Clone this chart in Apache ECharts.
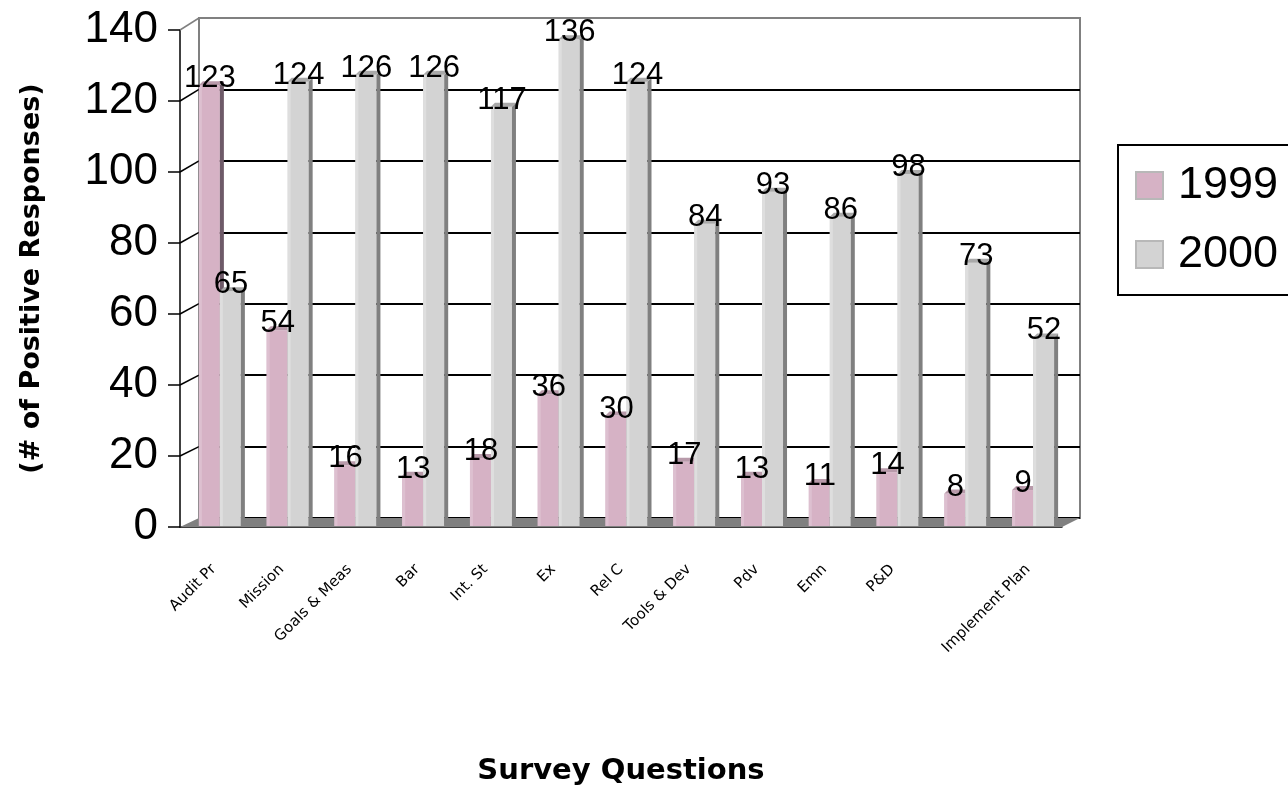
<!DOCTYPE html>
<html>
  <head>
    <title></title>
    <meta charset="UTF-8" />
    <script src="https://cdn.jsdelivr.net/npm/echarts@6/dist/echarts.min.js"></script>
    <style>
      body { margin: 0; background: #fff; }
    </style>
  </head>
  <body>
    <div id="main"></div>
    <script>
      const width = 1288;
      const height = 789;
      const main = document.getElementById('main');
      main.style.width = `${width}px`;
      main.style.height = `${height}px`;

      // data
      const categories = ['Audit Pr', 'Mission', 'Goals & Meas', 'Bar', 'Int. St', 'Ex', 'Rel C', 'Tools & Dev', 'Pdv', 'Emn', 'P&D', '', 'Implement Plan'];
      const values1999 = [123, 54, 16, 13, 18, 36, 30, 17, 13, 11, 14, 8, 9];
      const values2000 = [65, 124, 126, 126, 117, 136, 124, 84, 93, 86, 98, 73, 52];
      const yTicks = [0, 20, 40, 60, 80, 100, 120, 140];

      // front axis box, back wall box, and the plane the bars stand in (fake 3d)
      const front = { left: 180, top: 30, right: 1062, bottom: 527 };
      const back = { left: 199, top: 18, right: 1080, bottom: 518 };
      const mid = { left: 190, top: 25, right: 1071, bottom: 522 };

      const colors = [
        { front: '#d6b2c5', light: '#ddc0d0', side: '#6e5a68', top: '#b89aaa' },
        { front: '#d3d3d3', light: '#dedede', side: '#808080', top: '#a9a9a9' },
      ];

      function bar3d(s) {
        return function (params, api) {
          const i = api.value(0);
          const v = api.value(1);
          const p = api.coord([i, v]);
          const b = api.coord([i, 0]);
          const bw = 21;
          const d = 4;
          const x0 = p[0] - 25 + s * 21;
          const yT = p[1];
          const yB = b[1] + 4;
          const c = colors[s];
          return {
            type: 'group',
            children: [
              { type: 'rect', shape: { x: x0, y: yT, width: bw, height: yB - yT }, style: { fill: c.front } },
              { type: 'rect', shape: { x: x0, y: yT, width: 3, height: yB - yT }, style: { fill: c.light } },
              { type: 'polygon', shape: { points: [[x0 + bw, yT], [x0 + bw + d, yT - d], [x0 + bw + d, yB - d], [x0 + bw, yB]] }, style: { fill: c.side } },
              { type: 'polygon', shape: { points: [[x0, yT], [x0 + d, yT - d], [x0 + bw + d, yT - d], [x0 + bw, yT]] }, style: { fill: c.top } },
            ],
          };
        };
      }

      function label3d(s) {
        return function (params, api) {
          const i = api.value(0);
          const v = api.value(1);
          const p = api.coord([i, v]);
          const x0 = p[0] - 25 + s * 21;
          return {
            type: 'text',
            style: {
              text: String(v),
              x: x0 + 11,
              y: p[1] + 9,
              align: 'center',
              verticalAlign: 'bottom',
              font: '31px "Liberation Sans", Arial',
              fill: '#000',
            },
          };
        };
      }

      const d1999 = values1999.map((v, i) => [i, v]);
      const d2000 = values2000.map((v, i) => [i, v]);

      function box(r) {
        return {
          left: r.left,
          top: r.top,
          width: r.right - r.left,
          height: r.bottom - r.top,
          outerBoundsMode: 'none',
          containLabel: false,
        };
      }

      const myChart = echarts.init(main);
      const option = {
        animation: false,
        textStyle: { fontFamily: '"Liberation Sans", Arial' },
        grid: [
          box(front),
          Object.assign(box(back), { show: true, borderColor: '#808080', borderWidth: 2 }),
          box(mid),
        ],
        legend: {
          data: ['1999', '2000'],
          orient: 'vertical',
          left: 1118,
          top: 145,
          icon: 'rect',
          itemWidth: 27,
          itemHeight: 27,
          itemGap: 24,
          padding: [18, 40, 18, 17],
          borderColor: '#000',
          borderWidth: 2,
          textStyle: { fontSize: 45, color: '#000', padding: [0, 0, 0, 10] },
        },
        xAxis: [
          {
            type: 'category',
            gridIndex: 0,
            data: categories,
            axisLine: { lineStyle: { color: '#000', width: 1.5 } },
            axisTick: { length: 11, lineStyle: { color: '#000', width: 1.5 } },
            axisLabel: { rotate: 45, fontSize: 15, color: '#000', margin: 40, fontFamily: 'DejaVu Sans' },
            name: 'Survey Questions',
            nameLocation: 'middle',
            nameGap: 230,
            nameTextStyle: { fontSize: 29, fontWeight: 'bold', color: '#000', fontFamily: 'DejaVu Sans' },
          },
          { type: 'category', gridIndex: 1, data: categories, show: false },
          { type: 'category', gridIndex: 2, data: categories, show: false },
        ],
        yAxis: [
          {
            type: 'value',
            gridIndex: 0,
            min: 0,
            max: 140,
            interval: 20,
            axisLine: { show: true, lineStyle: { color: '#000', width: 1.5 } },
            axisTick: { show: true, length: 12, lineStyle: { color: '#000', width: 1.5 } },
            axisLabel: { fontSize: 44, color: '#000', margin: 22 },
            splitLine: { show: false },
            name: '(# of Positive Responses)',
            nameLocation: 'middle',
            nameRotate: 90,
            nameGap: 135,
            nameTextStyle: { fontSize: 27, fontWeight: 'bold', color: '#000', fontFamily: 'DejaVu Sans' },
          },
          {
            type: 'value',
            gridIndex: 1,
            min: 0,
            max: 140,
            interval: 20,
            axisLine: { show: false },
            axisTick: { show: false },
            axisLabel: { show: false },
            splitLine: {
              lineStyle: {
                color: yTicks.map((v) => (v === 140 ? '#808080' : '#000')),
                width: 2,
              },
            },
          },
          { type: 'value', gridIndex: 2, min: 0, max: 140, interval: 20, show: false, splitLine: { show: false } },
        ],
        series: [
          { name: '1999', type: 'custom', xAxisIndex: 2, yAxisIndex: 2, z: 3, renderItem: bar3d(0), data: d1999, itemStyle: { color: colors[0].front, borderColor: '#b8b8b8', borderWidth: 2 } },
          { name: '2000', type: 'custom', xAxisIndex: 2, yAxisIndex: 2, z: 4, renderItem: bar3d(1), data: d2000, itemStyle: { color: colors[1].front, borderColor: '#b8b8b8', borderWidth: 2 } },
          { name: 'l1999', type: 'custom', xAxisIndex: 2, yAxisIndex: 2, z: 6, renderItem: label3d(0), data: d1999 },
          { name: 'l2000', type: 'custom', xAxisIndex: 2, yAxisIndex: 2, z: 6, renderItem: label3d(1), data: d2000 },
        ],
      };
      myChart.setOption(option);

      // floor and left wall lines, placed through the axis scales
      const wall = yTicks.slice(1).map((v) => {
        const yf = myChart.convertToPixel({ yAxisIndex: 0 }, v);
        const yb = myChart.convertToPixel({ yAxisIndex: 1 }, v);
        return {
          type: 'line',
          z: 1,
          shape: { x1: front.left, y1: yf, x2: back.left, y2: yb },
          style: { stroke: v === 140 ? '#808080' : '#000', lineWidth: 1.5 },
        };
      });
      myChart.setOption({
        graphic: [
          {
            type: 'polygon',
            z: 1,
            shape: { points: [[front.left, front.bottom], [front.right, front.bottom], [back.right, back.bottom], [back.left, back.bottom]] },
            style: { fill: '#808080' },
          },
        ].concat(wall),
      });
    </script>
  </body>
</html>
